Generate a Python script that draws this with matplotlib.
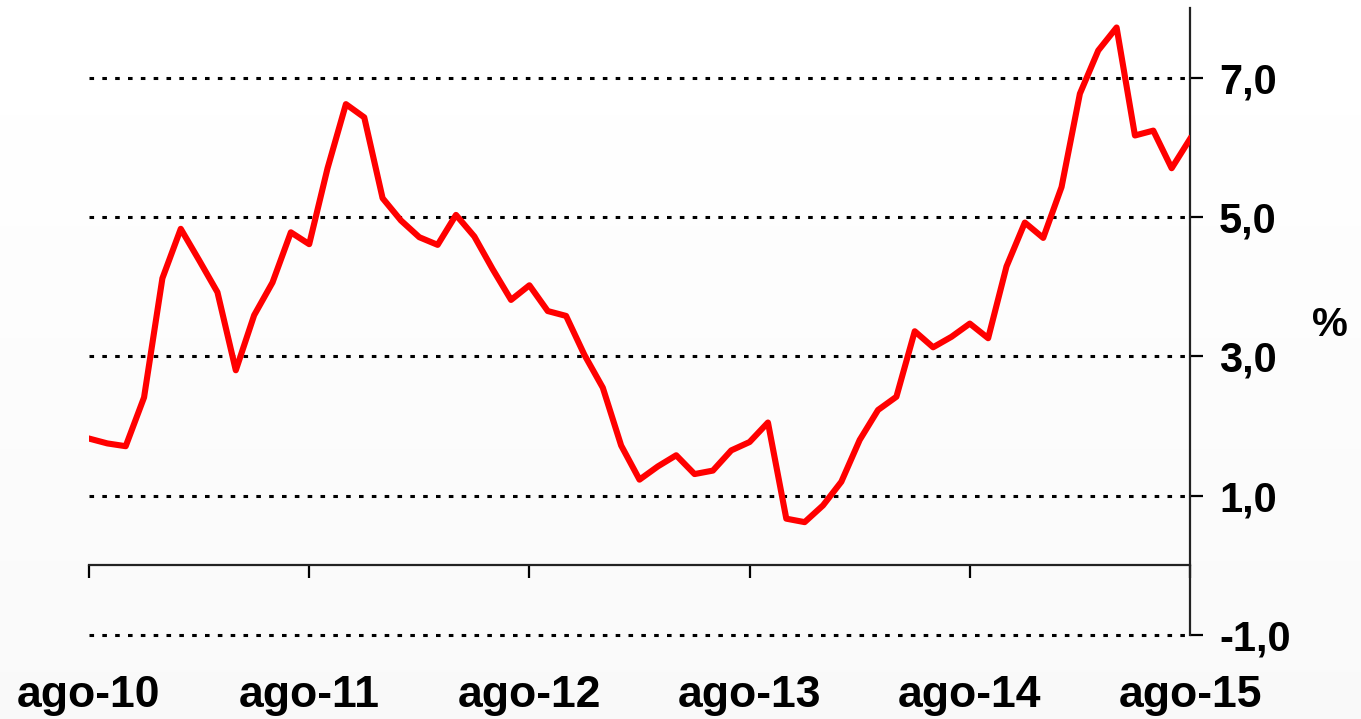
import matplotlib.pyplot as plt
import numpy as np

# monthly values, ago-10 .. ago-15
values = [1.82, 1.75, 1.71, 2.41, 4.12, 4.83, 4.38, 3.92, 2.80, 3.59,
          4.06, 4.78, 4.61, 5.70, 6.62, 6.43, 5.27, 4.95, 4.71, 4.60,
          5.03, 4.72, 4.25, 3.81, 4.02, 3.65, 3.58, 3.02, 2.55, 1.72,
          1.23, 1.42, 1.58, 1.31, 1.36, 1.65, 1.77, 2.05, 0.67, 0.62,
          0.86, 1.20, 1.80, 2.23, 2.42, 3.36, 3.13, 3.28, 3.47, 3.26,
          4.29, 4.92, 4.70, 5.43, 6.77, 7.39, 7.72, 6.17, 6.24, 5.70,
          6.12]
tick_pos = [0, 12, 24, 36, 48, 60]
tick_labels = ['ago-10', 'ago-11', 'ago-12', 'ago-13', 'ago-14', 'ago-15']
y_ticks = [-1, 1, 3, 5, 7]
y_labels = ['-1,0', '1,0', '3,0', '5,0', '7,0']

plt.rcParams['font.family'] = ['Liberation Sans', 'DejaVu Sans']
plt.rcParams['font.weight'] = 'bold'

fig = plt.figure(figsize=(13.61, 7.19), dpi=100)

# soft white-to-grey background
bg = fig.add_axes([0, 0, 1, 1], zorder=-1)
grad = np.linspace(0.975, 1.0, 200).reshape(-1, 1)
bg.imshow(grad, aspect='auto', cmap='gray', vmin=0, vmax=1,
          extent=[0, 1, 0, 1], origin='lower')
bg.axis('off')

ax = fig.add_axes([89 / 1361, 1 - 635 / 719, (1190 - 89) / 1361, (635 - 8) / 719])
ax.patch.set_alpha(0)

x = np.arange(len(values))
ax.plot(x, values, color='#ff0000', lw=4.4, zorder=3)

ax.set_xlim(0, 60)
ax.set_ylim(-1, 8)

ax.spines['left'].set_visible(False)
ax.spines['top'].set_visible(False)
ax.spines['bottom'].set_position(('data', 0))
for s in ['bottom', 'right']:
    ax.spines[s].set_linewidth(1.6)
    ax.spines[s].set_color('#222222')

ax.yaxis.tick_right()
ax.set_yticks(y_ticks)
ax.set_yticklabels(y_labels)
ax.set_xticks(tick_pos)
ax.set_xticklabels(tick_labels)

ax.tick_params(axis='y', direction='out', length=9, width=1.6, pad=12,
               labelsize=30, colors='black')
ax.tick_params(axis='x', direction='out', length=9, width=1.6, pad=70,
               labelsize=32, colors='black')
for lab in ax.get_xticklabels() + ax.get_yticklabels():
    lab.set_fontweight('bold')

ax.grid(axis='y', color='black', lw=2.2, linestyle=(0, (1.5, 2.7)), zorder=1)
ax.grid(axis='x', visible=False)
for gl in ax.yaxis.get_gridlines():
    gl.set_clip_on(False)

ax.text(1.127, 0.494, '%', transform=ax.transAxes, fontsize=29,
        fontweight='bold', ha='center', va='center')

fig.savefig('out.png', dpi=100)
